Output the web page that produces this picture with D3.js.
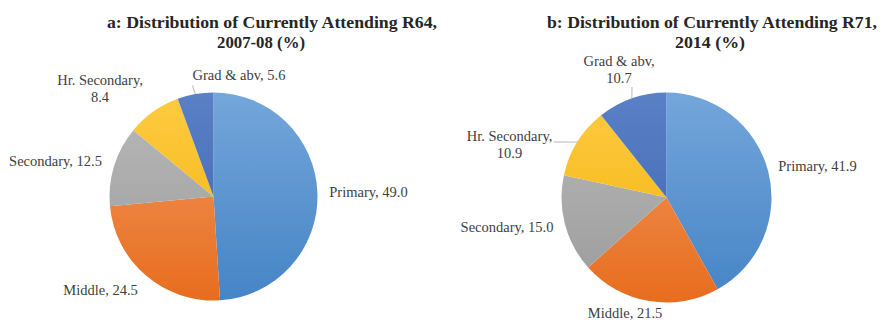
<!DOCTYPE html>
<html>
<head>
<meta charset="utf-8">
<script src="https://cdn.jsdelivr.net/npm/d3@7"></script>
<style>
  html, body { margin: 0; padding: 0; background: #fff; }
  svg { display: block; }
</style>
</head>
<body>
<svg id="chart" width="880" height="322"></svg>
<script>
// Education level categories, in slice order (clockwise from 12 o'clock)
const categories = ["Primary", "Middle", "Secondary", "Hr. Secondary", "Grad & abv"];

// Share of currently attending students (%)
const valuesR64 = [49.0, 24.5, 12.5, 8.4, 5.6];
const valuesR71 = [41.9, 21.5, 15.0, 10.9, 10.7];

// Panel titles (two lines each)
const titleR64 = ["a: Distribution of Currently Attending R64,", "2007-08 (%)"];
const titleR71 = ["b: Distribution of Currently Attending R71,", "2014 (%)"];

// Slice fills: [top, bottom] of a vertical gradient
const sliceColors = {
  "Primary":       ["#74a6da", "#4584c6"],
  "Middle":        ["#f3995e", "#e76d1f"],
  "Secondary":     ["#b9b9b9", "#9b9b9b"],
  "Hr. Secondary": ["#fdcb42", "#f4b10a"],
  "Grad & abv":    ["#5a80c6", "#3c63b0"]
};

const FONT = "Liberation Serif";

// Panel geometry and label placement (offsets from the pie centre)
const panels = [
  {
    id: "r64", values: valuesR64, title: titleR64,
    cx: 213.5, cy: 196.5, r: 104,
    titleX: [272, 261], titleY: [28, 48], titleLen: [330, 88],
    labels: {
      "Primary":       { dx: 155, dy: -5, lines: 1 },
      "Middle":        { dx: -113, dy: 93, lines: 1 },
      "Secondary":     { dx: -158, dy: -36, lines: 1 },
      "Hr. Secondary": { dx: -113.5, dy: -108.5, lines: 2 },
      "Grad & abv":    { dx: 25.5, dy: -122, lines: 1, leader: [-21, -111] }
    }
  },
  {
    id: "r71", values: valuesR71, title: titleR71,
    cx: 666.5, cy: 197.5, r: 105,
    titleX: [712, 710], titleY: [28, 48], titleLen: [330, 70],
    labels: {
      "Primary":       { dx: 151, dy: -32, lines: 1 },
      "Middle":        { dx: -41.5, dy: 115, lines: 1 },
      "Secondary":     { dx: -159.5, dy: 29, lines: 1 },
      "Hr. Secondary": { dx: -157, dy: -53.5, lines: 2, leader: [-113, -55.5] },
      "Grad & abv":    { dx: -47.5, dy: -128.5, lines: 2, leader: [-34.5, -110.5] }
    }
  }
];

const svg = d3.select("#chart");
const defs = svg.append("defs");

const pie = d3.pie().sort(null).value(d => d.value);

panels.forEach(p => {
  const data = categories.map((c, i) => ({ category: c, value: p.values[i] }));
  const arcs = pie(data);
  const arc = d3.arc().innerRadius(0).outerRadius(p.r);

  // one vertical gradient per slice, spanning the whole pie
  categories.forEach((c, i) => {
    const g = defs.append("linearGradient")
      .attr("id", `grad-${p.id}-${i}`)
      .attr("gradientUnits", "userSpaceOnUse")
      .attr("x1", 0).attr("y1", -p.r)
      .attr("x2", 0).attr("y2", p.r);
    g.append("stop").attr("offset", "0%").attr("stop-color", sliceColors[c][0]);
    g.append("stop").attr("offset", "100%").attr("stop-color", sliceColors[c][1]);
  });

  const gPie = svg.append("g").attr("transform", `translate(${p.cx},${p.cy})`);

  gPie.selectAll("path.slice")
    .data(arcs)
    .join("path")
    .attr("class", "slice")
    .attr("d", arc)
    .attr("fill", (d, i) => `url(#grad-${p.id}-${i})`);

  // leader lines from the slice edge (mid-angle) to the label
  arcs.forEach(a => {
    const L = p.labels[a.data.category];
    if (!L.leader) return;
    const mid = (a.startAngle + a.endAngle) / 2;
    const ex = p.r * Math.sin(mid), ey = -p.r * Math.cos(mid);
    gPie.append("line")
      .attr("x1", ex).attr("y1", ey)
      .attr("x2", L.leader[0]).attr("y2", L.leader[1])
      .attr("stroke", "#a6a6a6").attr("stroke-width", 0.8);
  });

  // data labels: "Category, value"
  arcs.forEach(a => {
    const L = p.labels[a.data.category];
    const valTxt = d3.format(".1f")(a.data.value);
    const t = gPie.append("text")
      .attr("text-anchor", "middle")
      .attr("font-family", FONT)
      .attr("font-size", 14.5)
      .attr("fill", "#404040");
    if (L.lines === 2) {
      t.append("tspan").attr("x", L.dx).attr("y", L.dy - 8.5).attr("dy", "0.35em")
        .text(`${a.data.category},`);
      t.append("tspan").attr("x", L.dx).attr("y", L.dy + 8.5).attr("dy", "0.35em")
        .text(valTxt);
    } else {
      t.append("tspan").attr("x", L.dx).attr("y", L.dy).attr("dy", "0.35em")
        .text(`${a.data.category}, ${valTxt}`);
    }
  });

  // panel title, each line stretched to its set width
  p.title.forEach((line, i) => {
    svg.append("text")
      .attr("text-anchor", "middle")
      .attr("font-family", FONT)
      .attr("font-weight", "bold")
      .attr("font-size", 17)
      .attr("fill", "#262626")
      .attr("x", p.titleX[i]).attr("y", p.titleY[i])
      .attr("textLength", p.titleLen[i])
      .attr("lengthAdjust", "spacingAndGlyphs")
      .text(line);
  });
});
</script>
</body>
</html>
